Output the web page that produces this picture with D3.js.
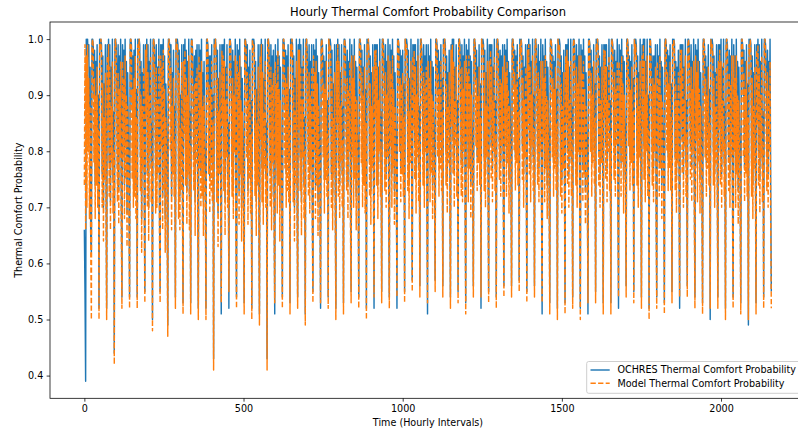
<!DOCTYPE html>
<html>
<head>
<meta charset="utf-8">
<script src="https://cdn.jsdelivr.net/npm/d3@7"></script>
<style>
  body { margin: 0; background: #fff; }
  svg { display: block; font-family: "DejaVu Sans", sans-serif; }
</style>
</head>
<body>
<svg id="chart" width="798" height="431"></svg>
<script>
// Comfort probability (in percent) sampled every 2 hours, 12 samples per day, 90 days.
const hoursPerSample = 2;
const hourSpan = [0, 2159];

const ochresPct = [
  66,55,39,100,88,100,97,99,85,95,64,62,
  100,100,99,90,98,74,96,80,99,76,90,52,
  100,99,100,99,76,97,70,92,81,99,78,52,
  99,92,100,78,99,71,95,84,100,75,87,44,
  100,100,99,93,77,99,73,97,85,100,72,54,
  99,90,98,74,100,81,96,69,94,83,76,54,
  100,100,99,88,97,76,98,78,100,74,91,54,
  100,99,100,99,79,96,68,94,83,99,76,55,
  99,93,100,76,99,70,96,86,100,77,85,50,
  100,100,99,94,75,99,76,95,82,100,70,55,
  99,89,99,72,100,79,97,68,92,85,74,49,
  100,100,99,91,99,72,94,82,98,78,88,54,
  100,99,100,99,74,98,72,90,79,99,76,53,
  99,91,100,80,98,73,96,82,100,72,87,53,
  100,100,98,92,79,97,71,98,84,99,74,52,
  99,88,98,76,100,78,94,71,96,81,77,52,
  100,100,99,89,97,75,97,79,99,77,90,43,
  100,99,100,98,77,98,69,93,82,99,79,51,
  99,92,99,79,100,71,95,85,99,76,85,52,
  100,100,99,93,78,98,74,96,86,100,71,54,
  99,89,98,73,100,82,95,70,93,84,75,53,
  100,100,99,90,99,73,95,81,98,75,89,52,
  100,99,100,99,78,96,71,91,80,99,77,51,
  99,91,100,77,99,73,93,83,100,76,85,43,
  100,100,99,92,76,99,72,97,84,98,73,51,
  99,88,97,75,100,80,97,70,95,82,78,54,
  100,100,99,88,98,76,97,79,99,77,91,53,
  100,99,100,99,77,97,70,93,80,100,79,54,
  99,92,100,79,99,71,95,85,100,74,86,51,
  100,100,98,93,78,99,75,96,83,99,73,55,
  99,90,98,74,100,80,97,71,94,84,77,52,
  100,100,99,90,97,75,96,81,99,78,89,54,
  100,99,100,99,76,98,72,92,82,99,77,52,
  99,93,100,78,99,74,94,84,99,76,88,53,
  100,100,99,93,79,98,74,96,86,100,72,55,
  99,89,97,76,100,81,96,72,95,83,79,54,
  100,100,99,89,98,76,95,80,99,75,91,52,
  100,99,100,98,78,97,73,94,83,99,80,52,
  99,94,99,80,99,74,95,86,100,78,87,55,
  100,100,99,94,79,99,76,96,85,100,74,54,
  99,90,98,76,100,83,97,73,94,85,78,52,
  100,100,99,91,98,77,97,82,98,78,92,55,
  100,99,100,99,79,98,74,93,84,100,80,57,
  99,92,99,81,99,75,96,85,100,77,88,56,
  100,100,98,94,80,99,76,97,86,99,75,51,
  99,89,97,77,100,82,96,74,95,86,79,57,
  100,100,99,90,98,78,96,83,99,79,93,56,
  100,99,100,99,80,97,75,94,84,98,81,54,
  99,93,100,82,100,76,95,87,99,78,89,55,
  100,100,99,94,78,99,77,97,86,100,75,53,
  99,90,98,77,100,83,97,74,96,85,80,56,
  100,100,99,92,98,79,95,84,99,80,92,52,
  100,99,100,99,79,98,76,94,85,100,81,55,
  99,94,99,81,99,77,95,86,100,79,89,54,
  100,100,99,95,81,98,78,97,87,99,76,56,
  99,89,98,78,100,84,96,75,94,86,80,56,
  100,100,99,91,98,79,97,84,99,80,93,57,
  100,99,100,99,81,97,76,95,85,99,82,55,
  99,92,100,82,99,77,96,87,100,79,90,56,
  100,100,98,94,80,99,77,96,86,100,76,51,
  99,90,97,77,100,83,96,74,95,85,79,53,
  100,100,99,90,97,78,96,83,99,79,91,52,
  100,99,100,99,78,97,75,94,83,98,80,53,
  99,93,99,80,100,76,95,85,100,78,88,54,
  100,100,99,93,80,99,76,97,86,100,74,52,
  99,88,98,77,100,82,97,73,94,84,79,51,
  100,100,99,91,98,78,95,84,99,80,92,55,
  100,99,100,99,80,97,76,95,84,99,81,53,
  99,94,99,81,99,77,95,86,100,79,89,53,
  100,100,99,95,81,98,78,96,87,100,76,52,
  99,90,98,78,100,84,97,75,96,86,81,56,
  100,100,99,92,97,79,96,84,99,80,93,55,
  100,99,100,99,80,97,76,94,85,100,82,54,
  99,92,100,81,100,77,96,86,100,78,90,52,
  100,100,98,94,80,97,77,97,86,99,75,54,
  99,89,97,78,100,83,96,74,95,85,80,53,
  100,100,99,91,98,79,97,83,99,79,92,55,
  100,99,100,99,79,96,75,95,84,98,81,52,
  99,93,99,82,99,76,95,87,100,78,89,56,
  100,100,99,94,81,99,77,96,86,100,76,54,
  99,90,98,77,100,84,96,75,94,86,79,53,
  100,100,99,90,97,78,95,83,99,80,91,50,
  100,99,100,99,80,97,76,94,84,99,82,54,
  99,92,99,80,100,76,95,86,100,78,88,52,
  100,100,99,93,79,98,76,97,85,100,75,54,
  99,88,97,76,100,82,96,73,95,84,78,53,
  100,100,99,90,98,77,96,82,99,78,92,49,
  100,99,100,99,78,97,74,94,83,99,80,53,
  99,93,100,80,99,75,96,85,100,77,87,54,
  100,100,99,93,79,98,76,96,86,100,74,55
];

const modelPct = [
  74,99,66,97,70,99,80,93,68,88,63,50,
  99,100,98,78,93,68,90,74,95,70,84,50,
  99,98,100,97,70,92,64,86,75,94,72,50,
  97,84,99,72,95,66,88,78,96,69,80,42,
  99,100,97,82,71,94,67,91,79,96,66,52,
  96,79,93,68,97,75,90,63,88,77,70,52,
  99,100,98,75,91,70,93,72,97,68,86,52,
  99,97,100,96,73,90,62,88,77,95,70,53,
  98,86,99,70,94,64,90,80,97,71,78,48,
  99,100,98,84,69,95,70,89,76,97,64,53,
  97,81,95,66,98,73,91,62,86,79,68,47,
  99,100,97,80,95,66,88,76,93,72,82,52,
  100,98,99,97,68,94,66,84,73,96,70,51,
  96,83,98,74,93,67,90,76,97,66,81,51,
  99,100,96,80,73,92,65,93,78,95,68,50,
  97,77,94,70,96,72,88,65,90,75,71,50,
  99,100,98,76,92,69,91,73,96,71,85,41,
  99,98,100,95,71,93,63,87,76,94,73,53,
  98,85,97,73,96,65,89,79,95,70,79,55,
  99,100,97,83,72,93,68,90,80,97,65,52,
  96,80,94,67,97,76,89,64,87,78,69,51,
  99,100,98,79,94,67,89,75,94,69,83,50,
  100,98,99,96,72,91,65,85,74,95,71,49,
  97,82,99,71,94,67,87,77,96,70,79,41,
  99,100,97,81,70,95,66,92,78,94,67,53,
  96,78,92,69,98,74,91,64,89,76,72,52,
  99,100,98,77,93,70,92,73,95,71,86,51,
  99,97,100,97,71,93,64,87,74,96,73,52,
  98,84,98,73,95,65,89,79,97,68,80,49,
  99,100,96,83,72,94,69,90,77,95,67,53,
  97,80,94,68,96,74,92,65,88,78,71,53,
  99,100,98,79,92,69,91,75,96,72,83,52,
  100,98,99,96,70,93,66,86,76,94,71,50,
  96,85,99,72,96,68,88,78,95,70,82,51,
  99,100,97,82,73,93,68,91,80,96,66,53,
  97,79,93,70,97,75,90,66,89,77,73,52,
  99,100,98,78,94,70,90,74,95,69,85,50,
  99,98,100,96,72,92,67,88,77,95,74,54,
  98,86,98,74,95,68,89,80,96,72,81,53,
  99,100,97,84,73,94,70,90,79,97,68,52,
  96,81,94,70,97,77,91,67,88,79,72,54,
  99,100,98,80,93,71,92,76,94,72,86,53,
  100,97,99,97,73,93,68,87,78,96,74,55,
  97,84,98,75,95,69,90,79,97,71,82,54,
  99,100,96,83,74,94,70,92,80,95,69,53,
  96,80,93,71,96,76,90,68,89,80,73,55,
  99,100,98,79,94,72,91,77,96,73,87,54,
  99,98,100,96,74,92,69,88,78,94,75,52,
  98,85,99,76,96,70,89,81,95,72,83,53,
  99,100,97,84,72,95,71,91,80,96,69,51,
  97,82,94,71,97,77,92,68,90,79,74,54,
  99,100,98,81,93,73,90,78,95,74,86,54,
  100,98,99,97,73,94,70,88,79,96,75,53,
  96,86,98,75,95,71,89,80,97,73,83,52,
  99,100,97,85,75,93,72,92,81,95,70,54,
  97,81,94,72,96,78,91,69,88,80,74,54,
  99,100,98,80,94,73,92,78,96,74,87,55,
  99,97,100,96,75,93,70,89,79,95,76,53,
  98,84,99,76,95,71,90,81,97,73,84,54,
  99,100,96,84,74,94,71,91,80,96,70,53,
  96,82,93,71,97,77,90,68,89,79,73,51,
  99,100,98,79,93,72,91,77,95,73,85,50,
  100,98,99,96,72,92,69,88,77,94,74,51,
  97,85,98,74,96,70,89,79,96,72,82,52,
  99,100,97,83,74,95,70,92,80,97,68,50,
  97,80,94,71,96,76,91,67,88,78,73,53,
  99,100,98,80,94,72,90,78,96,74,86,53,
  99,98,100,97,74,93,70,89,78,95,75,51,
  98,86,98,75,95,71,89,80,97,73,83,51,
  99,100,97,85,75,94,72,91,81,96,70,54,
  96,82,94,72,97,78,92,69,90,80,75,54,
  99,100,98,81,93,73,91,78,95,74,87,53,
  100,97,99,96,74,93,70,88,79,96,76,52,
  97,84,99,75,96,71,90,80,97,72,84,50,
  99,100,96,84,74,93,71,92,80,95,69,52,
  96,81,93,72,97,77,90,68,89,79,74,51,
  99,100,98,80,94,73,92,77,96,73,86,53,
  99,98,100,96,73,92,69,89,78,94,75,54,
  98,85,98,76,95,70,89,81,97,72,83,54,
  99,100,97,84,75,95,71,91,80,96,70,52,
  97,82,94,71,96,78,91,69,88,80,73,51,
  99,100,98,79,93,72,90,77,95,74,85,52,
  100,98,99,97,74,93,70,88,78,95,76,52,
  96,84,98,74,96,70,89,80,96,72,82,50,
  99,100,97,83,73,94,70,92,79,97,69,52,
  97,80,93,70,97,76,90,67,89,78,72,51,
  99,100,98,79,94,71,91,76,96,72,86,50,
  99,97,100,96,72,93,68,88,77,95,74,51,
  98,85,99,74,95,69,90,79,97,71,81,52,
  99,100,97,83,73,94,70,91,80,96,68,52
];

const xTickValues = [0, 500, 1000, 1500, 2000];
const yTickValues = [0.4, 0.5, 0.6, 0.7, 0.8, 0.9, 1.0];
const seriesLabels = ["OCHRES Thermal Comfort Probability", "Model Thermal Comfort Probability"];
const seriesColors = ["#1f77b4", "#ff7f0e"];
const titleText = "Hourly Thermal Comfort Probability Comparison";
const xLabelText = "Time (Hourly Intervals)";
const yLabelText = "Thermal Comfort Probability";

// Axes box (the right edge runs past the visible canvas)
const plot = { left: 50, right: 806, top: 22, bottom: 398.3 };
const fontSize = 9.6;
const tickLen = 3.36;

const toPoints = arr => arr.map((v, i) => ({ hour: i * hoursPerSample, p: v / 100 }));
const series = [toPoints(ochresPct), toPoints(modelPct)];

// 5% padding on both axes
const xPad = (hourSpan[1] - hourSpan[0]) * 0.05;
const x = d3.scaleLinear()
  .domain([hourSpan[0] - xPad, hourSpan[1] + xPad])
  .range([plot.left, plot.right]);

const [pMin, pMax] = d3.extent(series.flat(), d => d.p);
const yPad = (pMax - pMin) * 0.05;
const y = d3.scaleLinear()
  .domain([pMin - yPad, pMax + yPad])
  .range([plot.bottom, plot.top]);

const svg = d3.select("#chart");

svg.append("defs").append("clipPath").attr("id", "plot-clip")
  .append("rect")
  .attr("x", plot.left).attr("y", plot.top)
  .attr("width", plot.right - plot.left).attr("height", plot.bottom - plot.top);

const line = d3.line().x(d => x(d.hour)).y(d => y(d.p));

const lines = svg.append("g").attr("clip-path", "url(#plot-clip)");
lines.append("path")
  .datum(series[0])
  .attr("d", line)
  .attr("fill", "none")
  .attr("stroke", seriesColors[0])
  .attr("stroke-width", 1.44)
  .attr("stroke-linejoin", "round");
lines.append("path")
  .datum(series[1])
  .attr("d", line)
  .attr("fill", "none")
  .attr("stroke", seriesColors[1])
  .attr("stroke-width", 1.44)
  .attr("stroke-linejoin", "round")
  .attr("stroke-dasharray", "5.3,2.3");

// Axes
const xAxis = d3.axisBottom(x).tickValues(xTickValues).tickFormat(d3.format("d"))
  .tickSize(tickLen).tickSizeOuter(0).tickPadding(3.36);
const yAxis = d3.axisLeft(y).tickValues(yTickValues).tickFormat(d3.format(".1f"))
  .tickSize(tickLen).tickSizeOuter(0).tickPadding(3.36);

const gx = svg.append("g").attr("transform", `translate(0,${plot.bottom})`).call(xAxis);
const gy = svg.append("g").attr("transform", `translate(${plot.left},0)`).call(yAxis);
[gx, gy].forEach(g => {
  g.select(".domain").remove();
  g.selectAll(".tick line").attr("stroke", "#000").attr("stroke-width", 0.77);
  g.selectAll(".tick text").attr("fill", "#000")
    .style("font-size", fontSize + "px").style("font-family", "DejaVu Sans, sans-serif");
});

// Spines
svg.append("rect")
  .attr("x", plot.left).attr("y", plot.top)
  .attr("width", plot.right - plot.left).attr("height", plot.bottom - plot.top)
  .attr("fill", "none").attr("stroke", "#000").attr("stroke-width", 0.77);

// Title and axis labels
svg.append("text")
  .attr("x", (plot.left + plot.right) / 2).attr("y", 16)
  .attr("text-anchor", "middle")
  .style("font-size", "11.5px")
  .text(titleText);

svg.append("text")
  .attr("x", (plot.left + plot.right) / 2).attr("y", 426)
  .attr("text-anchor", "middle")
  .style("font-size", fontSize + "px")
  .text(xLabelText);

svg.append("text")
  .attr("transform", `translate(21.5,${(plot.top + plot.bottom) / 2}) rotate(-90)`)
  .attr("text-anchor", "middle")
  .style("font-size", fontSize + "px")
  .text(yLabelText);

// Legend (lower right)
const legend = svg.append("g");
const lg = { x: 586.7, y: 361.5, w: 214.5, h: 31.8 };
legend.append("rect")
  .attr("x", lg.x).attr("y", lg.y).attr("width", lg.w).attr("height", lg.h)
  .attr("rx", 2).attr("ry", 2)
  .attr("fill", "#fff").attr("fill-opacity", 0.8)
  .attr("stroke", "#cccccc").attr("stroke-width", 0.96);

seriesLabels.forEach((label, i) => {
  const cy = 370 + i * 13.3;
  const h = legend.append("line")
    .attr("x1", 590.5).attr("x2", 609.7)
    .attr("y1", cy).attr("y2", cy)
    .attr("stroke", seriesColors[i]).attr("stroke-width", 1.44);
  if (i === 1) h.attr("stroke-dasharray", "5.3,2.3");
  legend.append("text")
    .attr("x", 617.4).attr("y", cy + 3.4)
    .style("font-size", fontSize + "px")
    .text(label);
});
</script>
</body>
</html>
